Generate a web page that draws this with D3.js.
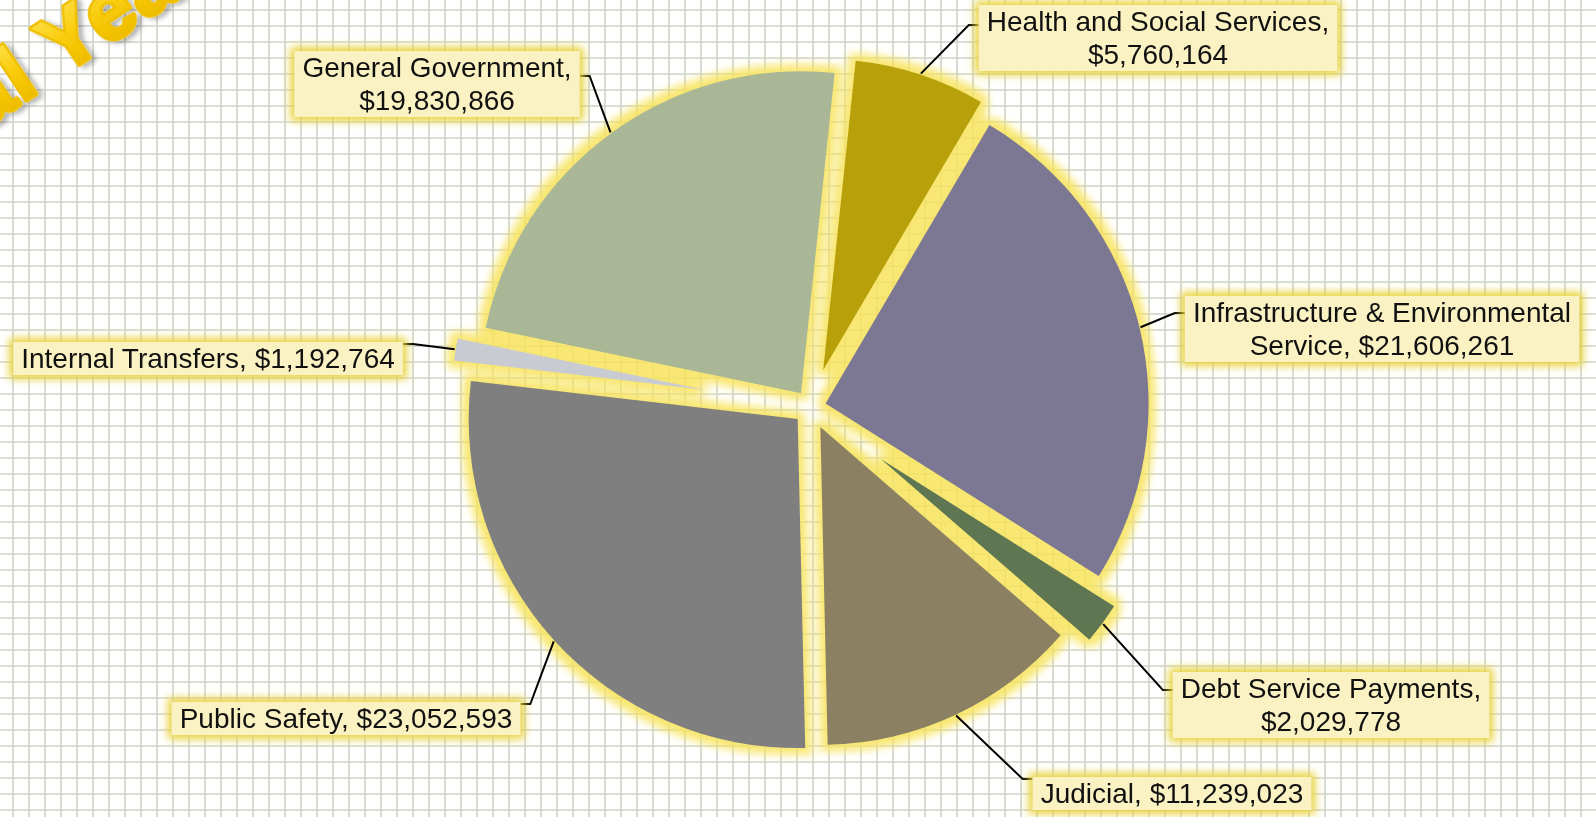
<!DOCTYPE html>
<html>
<head>
<meta charset="utf-8">
<script src="https://cdn.jsdelivr.net/npm/d3@7"></script>
<style>
  html, body { margin: 0; padding: 0; background: #fff; overflow: hidden; }
  svg { display: block; }
</style>
</head>
<body>
<svg id="chart" width="1596" height="817"></svg>
<script>
// ---- Data ----
const categories = [
  "Health and Social Services",
  "Infrastructure & Environmental Service",
  "Debt Service Payments",
  "Judicial",
  "Public Safety",
  "Internal Transfers",
  "General Government"
];
const values = [5760164, 21606261, 2029778, 11239023, 23052593, 1192764, 19830866];
const titleText = "Fiscal Year";

// ---- Styles / layout ----
const sliceColors = ["#b8a00a", "#7c7893", "#5f7653", "#8c8063", "#7f7f80", "#c9cbd2", "#a9b797"];
const sliceExplode = [39, 15, 87, 22, 18, 108, 17];
const sliceRadius  = [311, 323, 276, 318, 329, 252, 322];
// label centre x, first baseline y, wrap width, leader side, leader attach y
const labelLayout = [
  { x: 1158, y: 31,  wrap: 360, side: "left",  ay: 25 },
  { x: 1382, y: 322, wrap: 410, side: "left",  ay: 313 },
  { x: 1331, y: 698, wrap: 330, side: "left",  ay: 690 },
  { x: 1172, y: 803, wrap: 600, side: "left",  ay: 779 },
  { x: 346,  y: 728, wrap: 600, side: "right", ay: 704 },
  { x: 208,  y: 368, wrap: 600, side: "right", ay: 344 },
  { x: 437,  y: 77,  wrap: 280, side: "right", ay: 76 }
];

const W = 1596, H = 817;
const cx = 811, cy = 407;
const FONT = "'Liberation Sans', Arial, Helvetica, sans-serif";
const fmt = d3.format("$,");

const svg = d3.select("#chart");
const defs = svg.append("defs");

// graph-paper background
const pat = defs.append("pattern")
  .attr("id", "grid").attr("patternUnits", "userSpaceOnUse")
  .attr("x", 5).attr("y", 2).attr("width", 16).attr("height", 16);
pat.append("rect").attr("width", 16).attr("height", 16).attr("fill", "#ffffff");
pat.append("path").attr("d", "M8,0V16M0,8H16")
  .attr("stroke", "#cfd4c8").attr("stroke-width", 1.6).attr("fill", "none");
svg.append("rect").attr("width", W).attr("height", H).attr("fill", "url(#grid)");

// filters
const sg = defs.append("filter").attr("id", "sliceGlow")
  .attr("x", "-10%").attr("y", "-10%").attr("width", "120%").attr("height", "120%");
sg.append("feMorphology").attr("in", "SourceAlpha").attr("operator", "dilate").attr("radius", 7).attr("result", "d");
sg.append("feGaussianBlur").attr("in", "d").attr("stdDeviation", 4.5).attr("result", "b");
sg.append("feFlood").attr("flood-color", "#f7e35a").attr("flood-opacity", 0.85).attr("result", "f");
sg.append("feComposite").attr("in", "f").attr("in2", "b").attr("operator", "in");

const bg = defs.append("filter").attr("id", "boxGlow")
  .attr("x", "-20%").attr("y", "-40%").attr("width", "140%").attr("height", "180%");
bg.append("feMorphology").attr("in", "SourceAlpha").attr("operator", "dilate").attr("radius", 4).attr("result", "d");
bg.append("feGaussianBlur").attr("in", "d").attr("stdDeviation", 4).attr("result", "b");
bg.append("feFlood").attr("flood-color", "#e8d23c").attr("flood-opacity", 1).attr("result", "f");
bg.append("feComposite").attr("in", "f").attr("in2", "b").attr("operator", "in").attr("result", "g");
const bgm = bg.append("feMerge");
bgm.append("feMergeNode").attr("in", "g");
bgm.append("feMergeNode").attr("in", "SourceGraphic");

const gold = defs.append("linearGradient").attr("id", "gold")
  .attr("x1", 0).attr("y1", 0).attr("x2", 0).attr("y2", 1);
gold.append("stop").attr("offset", "0%").attr("stop-color", "#ffe65a");
gold.append("stop").attr("offset", "50%").attr("stop-color", "#f8cb08");
gold.append("stop").attr("offset", "100%").attr("stop-color", "#eab400");

const ts = defs.append("filter").attr("id", "titleShadow")
  .attr("x", "-10%").attr("y", "-30%").attr("width", "130%").attr("height", "160%");
ts.append("feDropShadow").attr("dx", 3).attr("dy", 4).attr("stdDeviation", 2.5)
  .attr("flood-color", "#000").attr("flood-opacity", 0.3);

// title word-art (runs off the top-left corner)
svg.append("text")
  .attr("transform", "translate(-160.5,226) rotate(-34)")
  .attr("font-family", FONT).attr("font-weight", "bold").attr("font-size", 82)
  .attr("letter-spacing", 2)
  .attr("fill", "url(#gold)").attr("stroke", "#efbf00").attr("stroke-width", 5)
  .attr("stroke-linejoin", "round")
  .attr("paint-order", "stroke")
  .attr("filter", "url(#titleShadow)")
  .text(titleText);

// ---- Pie ----
const a0 = 6 * Math.PI / 180;
const pie = d3.pie().sort(null).value(d => d.value).startAngle(a0).endAngle(a0 + 2 * Math.PI);
const data = categories.map((c, i) => ({ category: c, value: values[i], i }));
const arcs = pie(data).map((a, i) => {
  const mid = (a.startAngle + a.endAngle) / 2;
  return Object.assign(a, {
    mid,
    r: sliceRadius[i],
    ox: cx + Math.sin(mid) * sliceExplode[i],
    oy: cy - Math.cos(mid) * sliceExplode[i]
  });
});
const arcGen = d3.arc().innerRadius(0).outerRadius(d => d.r);

// glow layer behind all slices
svg.append("g").attr("filter", "url(#sliceGlow)")
  .selectAll("path").data(arcs).join("path")
  .attr("transform", d => `translate(${d.ox},${d.oy})`)
  .attr("d", arcGen).attr("fill", "#000");

svg.append("g").selectAll("path").data(arcs).join("path")
  .attr("transform", d => `translate(${d.ox},${d.oy})`)
  .attr("d", arcGen).attr("fill", (d, i) => sliceColors[i]);

// ---- Labels ----
const leaderLayer = svg.append("g");
const labelLayer = svg.append("g");

function wrapWords(text, width, probe) {
  const words = text.split(" ");
  const lines = [];
  let cur = "";
  words.forEach(w => {
    const t = cur ? cur + " " + w : w;
    probe.text(t);
    if (cur && probe.node().getComputedTextLength() > width) {
      lines.push(cur);
      cur = w;
    } else cur = t;
  });
  if (cur) lines.push(cur);
  return lines;
}

const probe = svg.append("text").attr("font-family", FONT).attr("font-size", 28).attr("visibility", "hidden");

arcs.forEach((a, i) => {
  const L = labelLayout[i];
  const label = a.data.category + ", " + fmt(a.data.value);
  const lines = wrapWords(label, L.wrap, probe);
  const g = labelLayer.append("g");
  const rect = g.append("rect");
  const txt = g.append("text")
    .attr("font-family", FONT).attr("font-size", 28).attr("fill", "#111")
    .attr("text-anchor", "middle");
  lines.forEach((ln, k) => {
    txt.append("tspan").attr("x", L.x).attr("y", L.y + k * 33).text(ln);
  });
  const bb = txt.node().getBBox();
  const padX = 8, padY = 1;
  const bx = bb.x - padX, by = bb.y - padY, bw = bb.width + 2 * padX, bh = bb.height + 2 * padY;
  rect.attr("x", bx).attr("y", by).attr("width", bw).attr("height", bh)
    .attr("fill", "#fbf2c3").attr("filter", "url(#boxGlow)");

  // leader line: slice edge -> elbow -> box side
  const sx = a.ox + Math.sin(a.mid) * (a.r + 1);
  const sy = a.oy - Math.cos(a.mid) * (a.r + 1);
  const ex = L.side === "left" ? bx : bx + bw;
  const elbow = L.side === "left" ? ex - 10 : ex + 10;
  leaderLayer.append("path")
    .attr("d", d3.line()([[sx, sy], [elbow, L.ay], [ex, L.ay]]))
    .attr("fill", "none").attr("stroke", "#000").attr("stroke-width", 2);
});
probe.remove();
</script>
</body>
</html>
